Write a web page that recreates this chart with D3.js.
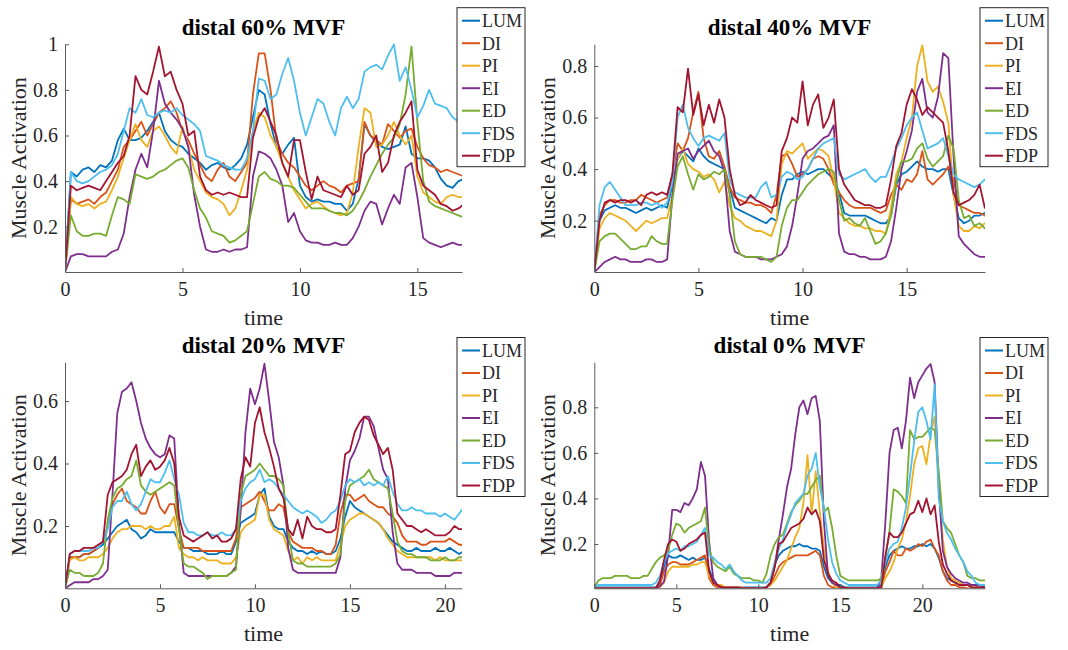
<!DOCTYPE html>
<html>
<head>
<meta charset="utf-8">
<script src="https://cdn.jsdelivr.net/npm/d3@7"></script>
<style>
  body { margin: 0; background: #fff; }
</style>
</head>
<body>
<svg id="chart" width="1068" height="650"></svg>
<script>
// sample spacing (s) shared by every series
const STEP = 0.25;
const muscles = ["LUM", "DI", "PI", "EI", "ED", "FDS", "FDP"];
const titles = ["distal 60% MVF", "distal 40% MVF", "distal 20% MVF", "distal 0% MVF"];
const tEnd = [16.9, 18.76, 20.9, 23.82];
const yDomains = [[0.0013, 1], [0.001, 0.884], [0.0006, 0.724], [0.0055, 0.9975]];
const xTicks = [[0, 5, 10, 15], [0, 5, 10, 15], [0, 5, 10, 15, 20], [0, 5, 10, 15, 20]];
const yTicks = [[0.2, 0.4, 0.6, 0.8, 1], [0.2, 0.4, 0.6, 0.8], [0.2, 0.4, 0.6], [0.2, 0.4, 0.6, 0.8]];

// activation x100, one value every STEP seconds
// distal 60% MVF
const lum60 = [0,44,42,45, 46,44,47,46, 49,58,63,58, 58,59,62,66, 70,62,58,56, 55,52,50,48, 45,47,48,46, 45,47,50,56, 68,80,78,65, 55,52,56,59, 38,33,31,32, 31,31,30,30, 27,30,41,65, 60,57,55,54, 55,56,64,52, 50,50,49,46, 41,38,37,40, 41];
const di60 = [0,32,30,31, 32,30,33,35, 40,45,55,58, 62,66,60,65, 70,72,75,70, 62,58,52,47, 42,40,45,48, 42,40,44,48, 78,96,96,80, 58,52,48,46, 42,38,36,38, 40,38,37,35, 38,39,40,66, 60,58,56,65, 62,59,62,63, 55,50,47,46, 44,45,44,43, 42];
const pi60 = [0,33,30,29, 30,28,30,31, 36,42,50,58, 65,58,55,62, 64,60,55,52, 64,55,45,40, 35,33,32,30, 25,28,36,45, 62,70,68,60, 55,48,42,36, 32,28,30,31, 29,27,26,25, 26,35,55,72, 70,55,56,60, 66,60,56,60, 42,35,33,31, 30,33,34,33, 33];
const ei60 = [0,7,8,8, 7,7,7,7, 9,10,17,33, 45,52,46,62, 84,74,70,67, 63,55,34,20, 10,9,9,10, 9,10,10,11, 42,53,52,50, 45,38,22,26, 18,14,13,13, 12,12,13,12, 12,15,20,27, 31,30,21,28, 34,30,46,48, 33,15,13,12, 11,12,13,12, 12];
const ed60 = [0,25,18,16, 16,17,17,16, 25,33,32,30, 43,42,41,42, 44,45,47,49, 50,46,36,28, 24,18,17,16, 13,14,16,18, 30,42,44,41, 40,38,38,37, 34,31,28,28, 28,27,26,26, 25,27,31,36, 42,47,52,56, 59,65,78,99, 66,40,31,29, 28,27,26,25, 24];
const fds60 = [0,44,40,39, 40,42,44,45, 47,52,62,72, 70,76,69,68, 70,71,70,72, 69,67,65,62, 51,50,49,47, 46,45,45,50, 62,85,84,76, 78,87,94,84, 70,60,68,76, 74,66,60,72, 77,72,76,88, 90,91,89,95, 100,84,90,80, 68,73,80,74, 73,72,68,66, 70];
const fdp60 = [0,38,36,37, 38,37,36,40, 44,48,51,60, 86,80,78,88, 99,86,88,80, 74,60,62,42, 36,34,35,34, 35,34,33,33, 59,68,72,66, 60,48,42,58, 58,44,32,42, 36,35,34,33, 38,34,36,52, 55,60,44,48, 60,66,70,75, 45,38,36,34, 30,29,27,28, 30];

// distal 40% MVF
const lum40 = [0,20,24,25, 26,25,25,24, 23,24,25,24, 25,26,25,34, 44,47,45,43, 48,45,43,42, 41,40,33,25, 24,23,22,21, 20,19,21,20, 30,36,36,38, 39,38,39,40, 40,38,36,31, 23,22,22,22, 22,21,20,19, 19,22,34,38, 39,41,43,41, 40,40,39,40, 40,30,21,19, 20,22,22,23, 23];
const di40 = [0,22,26,28, 28,27,27,28, 28,30,29,28, 27,28,29,38, 50,47,52,62, 70,52,45,44, 47,41,33,29, 28,27,27,26, 26,25,23,30, 45,46,42,37, 38,40,44,45, 44,40,34,31, 28,26,25,25, 25,25,24,23, 24,30,34,32, 36,35,38,47, 36,34,36,38, 41,36,26,25, 24,23,23,22, 21];
const pi40 = [0,17,21,23, 22,21,20,18, 16,18,20,19, 20,21,21,30, 44,48,42,40, 39,37,38,36, 31,35,26,21, 20,18,17,16, 16,15,14,20, 42,47,46,48, 50,44,46,48, 47,45,36,23, 21,19,18,18, 17,17,16,16, 15,25,38,43, 52,60,80,88, 74,70,72,66, 58,30,18,16, 16,18,17,19, 20];
const ei40 = [0,2,4,5, 6,5,5,4, 4,4,5,5, 4,4,5,30, 46,47,48,44, 47,49,51,47, 45,39,16,8, 7,6,6,6, 5,5,5,6, 7,10,18,30, 44,47,48,50, 52,53,57,15, 8,7,7,6, 6,5,5,5, 6,12,25,40, 47,55,70,75, 62,60,68,85, 83,45,14,11, 9,7,6,6, 7];
const ed40 = [0,12,14,15, 15,13,11,9, 9,10,10,14, 12,11,11,28, 41,45,38,32, 38,36,37,39, 38,40,30,12, 7,6,6,6, 6,5,4,6, 18,25,28,28, 31,34,36,38, 39,40,39,28, 20,21,19,18, 21,16,11,12, 15,22,35,43, 43,44,48,50, 44,41,43,45, 53,48,28,21, 22,18,19,17, 17];
const fds40 = [0,26,33,35, 32,29,26,26, 26,27,27,26, 27,25,27,35, 60,65,56,52, 49,52,53,52, 51,54,36,31, 30,29,29,29, 33,35,29,30, 37,39,38,36, 37,40,44,48, 50,51,52,38, 36,37,38,39, 40,37,35,37, 37,42,48,52, 57,60,62,55, 48,49,50,52, 45,38,36,35, 34,33,34,36, 36];
const fdp40 = [0,20,27,28, 27,28,28,27, 28,26,30,31, 30,31,30,38, 64,62,79,61, 69,57,65,58, 67,60,40,30, 26,27,30,28, 27,26,25,26, 47,52,60,58, 74,57,65,69, 56,60,67,40, 34,31,28,27, 26,26,25,25, 26,36,49,54, 65,71,67,61, 64,62,60,58, 47,31,26,27, 28,30,34,25, 26];

// distal 20% MVF
const lum20 = [0,10,10,10, 11,11,12,13, 14,16,18,20, 21,22,19,18, 16,17,19,18, 18,18,18,18, 15,13,13,12, 12,12,11,11, 11,12,11,11, 15,21,22,23, 24,30,32,23, 20,19,19,15, 13,12,12,11, 12,11,12,11, 11,12,16,23, 28,26,25,24, 23,22,21,19, 17,15,14,13, 12,12,13,12, 12,12,13,12, 12,13,12,11, 12];
const di20 = [0,10,10,10, 11,11,12,13, 15,20,27,30, 32,28,27,26, 24,24,28,31, 26,24,27,27, 19,13,13,13, 13,12,12,12, 12,12,12,12, 16,26,27,28, 29,31,28,25, 25,27,26,18, 15,14,13,13, 13,12,12,11, 11,14,24,30, 30,28,29,30, 28,27,26,26, 24,23,21,17, 15,15,15,14, 14,15,15,15, 15,16,15,14, 14];
const pi20 = [0,9,10,9, 9,10,10,10, 11,13,16,18, 19,19,20,20, 20,19,20,19, 19,20,20,23, 13,11,10,10, 9,10,9,9, 9,8,8,8, 10,18,20,21, 22,30,30,22, 19,18,17,12, 9,10,8,10, 9,10,9,9, 9,9,14,20, 22,23,24,24, 23,22,21,19, 16,14,12,11, 10,10,10,10, 10,10,9,10, 9,9,9,9, 9];
const ei20 = [0,1,2,2, 2,2,3,3, 4,6,30,56, 63,64,66,60, 53,48,45,43, 42,43,49,48, 21,5,4,4, 4,4,4,4, 4,4,4,5, 7,25,50,64, 59,64,72,60, 47,42,33,13, 6,5,5,5, 5,5,5,5, 5,5,10,32, 41,44,48,55, 55,52,45,38, 35,18,8,6, 6,6,5,5, 5,5,4,4, 4,4,5,5, 5];
const ed20 = [0,6,5,5, 4,4,4,5, 8,22,29,32, 33,35,36,41, 33,31,30,31, 32,33,34,33, 19,8,7,7, 6,5,3,4, 4,4,4,5, 6,30,36,37, 38,40,38,36, 36,35,33,18, 9,8,8,7, 7,7,7,7, 7,8,11,28, 33,34,35,36, 38,35,34,33, 32,24,15,12, 11,11,10,10, 10,9,9,9, 10,9,9,10, 10];
const fds20 = [0,11,12,12, 12,12,13,13, 15,19,26,28, 28,31,27,25, 27,31,35,34, 34,37,41,35, 30,21,18,18, 17,17,18,17, 17,18,17,17, 19,28,32,34, 35,38,34,35, 34,32,30,28, 26,25,24,25, 24,23,21,22, 24,25,28,33, 35,34,35,33, 34,33,34,33, 36,31,27,25, 25,26,25,25, 24,24,24,23, 24,23,22,24, 26];
const fdp20 = [0,11,12,12, 13,13,13,14, 15,30,34,35, 36,38,43,46, 36,39,41,38, 39,41,45,40, 23,17,16,15, 16,17,18,16, 17,15,15,16, 19,35,42,39, 53,58,50,45, 39,32,29,19, 17,22,16,23, 20,19,19,18, 18,19,30,43, 44,50,53,55, 54,49,46,43, 45,38,24,22, 20,20,19,18, 19,18,17,17, 17,18,20,19, 19];

// distal 0% MVF
const lum0 = [1,1,1,1, 1,1,1,1, 1,1,1,1, 1,1,1,1, 3,10,15,14, 14,15,14,13, 14,13,13,14, 9,4,2,1, 1,1,1,1, 1,1,1,1, 1,1,1,3, 11,15,17,18, 19,19,20,19, 19,18,18,17, 10,5,3,2, 2,1,1,1, 1,1,1,1, 1,1,2,10, 15,17,18,19, 18,18,19,19, 20,19,20,18, 14,8,5,4, 3,3,2,2, 2,2,1,1, 1];
const di0 = [.5,.5,.5,.5, .5,.5,.5,.5, .5,.5,.5,.5, .5,.5,.5,.5, 2,8,11,12, 12,11,11,11, 12,13,14,15, 5,2,1,1, .5,.5,.5,.5, .5,.5,.5,.5, .5,.5,1,2, 6,10,12,13, 14,15,15,15, 15,16,17,15, 6,2,1,1, .5,.5,.5,.5, .5,.5,.5,.5, .5,.5,1,8, 12,17,15,15, 18,17,18,20, 19,21,22,18, 15,8,4,2, 2,1,1,.5, .5,.5,.5,.5, .5];
const pi0 = [.5,.5,.5,.5, .5,.5,.5,.5, .5,.5,.5,.5, .5,.5,.5,.5, 1,3,8,10, 10,10,10,10, 11,11,12,12, 6,3,2,2, 1,1,1,1, 1,.5,.5,.5, .5,.5,1,2, 4,7,10,13, 18,23,27,38, 59,33,52,34, 18,8,3,1, .5,.5,.5,.5, .5,.5,.5,.5, .5,.5,1,5, 8,12,18,22, 30,41,55,62, 63,55,68,76, 44,22,10,5, 4,3,2,2, 1,1,1,1, 1];
const ei0 = [.5,.5,.5,.5, .5,.5,.5,.5, .5,.5,.5,.5, .5,.5,.5,.5, 1.5,3.5,15,35, 35,34,38,37, 40,44,56,50, 21,5,2,1, .5,.5,.5,.5, .5,.5,.5,.5, .5,.5,1,3, 10,22,33,45, 53,68,80,83, 77,84,85,74, 30,6,3,2, 1,.5,.5,.5, .5,.5,.5,.5, .5,.5,5,30, 60,70,71,62, 74,93,84,91, 94,97,99,91, 45,17,10,7, 5,4,3,3, 2,2,2,1, 1];
const ed0 = [1,4,5,5, 5,6,6,6, 6,5,5,5, 6,6,9,12, 14,15,17,24, 29,28,25,27, 28,29,30,36, 18,12,10,9, 8,10,7,6, 5,5,5,4, 4,3,7,15, 20,23,24,29, 34,37,39,42, 42,45,48,50, 34,36,27,15, 6,5,4,4, 4,4,4,4, 4,4,5,14, 26,44,43,41, 38,70,66,67, 67,69,71,70, 52,30,27,25, 20,15,12,6, 5,5,4,4, 4];
const fds0 = [1,2,2,2, 2,2,2,2, 2,2,2,2, 2,2,2,3, 6,12,16,17, 18,17,19,19, 20,21,24,27, 15,14,12,11, 9,11,8,6, 4,3,3,3, 3,3,3,5, 12,18,22,28, 33,38,40,42, 50,53,60,45, 36,22,12,7, 4,3,2,2, 2,2,2,2, 2,2,4,12, 18,20,21,27, 36,50,65,78, 80,74,66,90, 40,30,25,22, 18,15,12,8, 6,3,2,2, 2];
const fdp0 = [.5,.5,.5,.5, .5,.5,.5,.5, .5,.5,.5,.5, .5,.5,.5,.5, 4,13,20,22, 21,17,18,20, 21,22,24,25, 8,3,2,1, 1,1,1,1, .5,.5,.5,.5, .5,.5,1,3, 10,20,21,24, 27,28,29,31, 36,33,35,30, 13,7,4,3, 1,1,.5,.5, .5,.5,.5,.5, .5,.5,1,15, 25,23,23,25, 29,33,34,39, 34,40,33,37, 21,11,7,4, 3,2,2,2, 1,1,1,1, 1];

const panels = [
  { title: titles[0], tEnd: tEnd[0], yDomain: yDomains[0], xTicks: xTicks[0], yTicks: yTicks[0], series: [lum60, di60, pi60, ei60, ed60, fds60, fdp60] },
  { title: titles[1], tEnd: tEnd[1], yDomain: yDomains[1], xTicks: xTicks[1], yTicks: yTicks[1], series: [lum40, di40, pi40, ei40, ed40, fds40, fdp40] },
  { title: titles[2], tEnd: tEnd[2], yDomain: yDomains[2], xTicks: xTicks[2], yTicks: yTicks[2], series: [lum20, di20, pi20, ei20, ed20, fds20, fdp20] },
  { title: titles[3], tEnd: tEnd[3], yDomain: yDomains[3], xTicks: xTicks[3], yTicks: yTicks[3], series: [lum0, di0, pi0, ei0, ed0, fds0, fdp0] }
];

// MATLAB default line colours
const colors = ["#0072BD", "#D95319", "#EDB120", "#7E2F8E", "#77AC30", "#4DBEEE", "#A2142F"];
const cols = [{ left: 65, right: 462 }, { left: 594.3, right: 985 }];
const rows = [{ top: 44.3, bottom: 272, legendRow: 20.7 }, { top: 362.3, bottom: 588.3, legendRow: 350.5 }];
const axisColor = "#5a5a5a";
const textColor = "#262626";
const serif = "'Liberation Serif', serif";

const svg = d3.select("#chart").attr("font-family", serif);

panels.forEach((p, i) => {
  const c = cols[i % 2];
  const r = rows[Math.floor(i / 2)];
  const x = d3.scaleLinear().domain([0, p.tEnd]).range([c.left, c.right]);
  const y = d3.scaleLinear().domain(p.yDomain).range([r.bottom, r.top]);
  const g = svg.append("g");

  g.append("clipPath").attr("id", "clip" + i)
    .append("rect")
    .attr("x", c.left).attr("y", r.top - 1)
    .attr("width", c.right - c.left).attr("height", r.bottom - r.top + 1);

  const line = d3.line()
    .x((d, k) => x(k * STEP))
    .y(d => y(d / 100));

  p.series.forEach((s, k) => {
    g.append("path")
      .datum(s)
      .attr("clip-path", "url(#clip" + i + ")")
      .attr("fill", "none")
      .attr("stroke", colors[k])
      .attr("stroke-width", 1.8)
      .attr("stroke-linejoin", "round")
      .attr("d", line);
  });

  const xAxis = g.append("g")
    .attr("transform", "translate(0," + r.bottom + ")")
    .call(d3.axisBottom(x).tickValues(p.xTicks).tickSize(-4).tickSizeOuter(0).tickPadding(10).tickFormat(d3.format("d")));
  const yAxis = g.append("g")
    .attr("transform", "translate(" + c.left + ",0)")
    .call(d3.axisLeft(y).tickValues(p.yTicks).tickSize(-4).tickSizeOuter(0).tickPadding(7).tickFormat(d3.format("~g")));

  [xAxis, yAxis].forEach(a => {
    a.attr("font-family", serif).attr("font-size", 20);
    a.select(".domain").attr("stroke", axisColor);
    a.selectAll(".tick line").attr("stroke", axisColor);
    a.selectAll(".tick text").attr("fill", textColor);
  });

  g.append("text")
    .attr("x", (c.left + c.right) / 2).attr("y", r.top - 9.5)
    .attr("text-anchor", "middle")
    .attr("font-size", 23).attr("font-weight", "bold").attr("fill", "#000")
    .text(p.title);

  g.append("text")
    .attr("x", (c.left + c.right) / 2).attr("y", r.bottom + 53)
    .attr("text-anchor", "middle")
    .attr("font-size", 22).attr("fill", textColor)
    .text("time");

  g.append("text")
    .attr("transform", "translate(" + (c.left - 39) + "," + (r.top + r.bottom) / 2 + ") rotate(-90)")
    .attr("text-anchor", "middle")
    .attr("font-size", 22).attr("fill", textColor)
    .text("Muscle Activation");

  // legend
  const lx = c.right - 5;
  const ly = r.legendRow - 13;
  const rowH = 22.5;
  const leg = g.append("g");
  leg.append("rect")
    .attr("x", lx).attr("y", ly)
    .attr("width", 68).attr("height", rowH * 6 + 24)
    .attr("fill", "#fff").attr("stroke", "#262626").attr("stroke-width", 1);
  muscles.forEach((m, k) => {
    const yy = r.legendRow + k * rowH;
    leg.append("line")
      .attr("x1", lx + 5).attr("x2", lx + 23)
      .attr("y1", yy).attr("y2", yy)
      .attr("stroke", colors[k]).attr("stroke-width", 2);
    leg.append("text")
      .attr("x", lx + 25).attr("y", yy)
      .attr("dy", "0.35em")
      .attr("font-size", 18).attr("fill", textColor)
      .text(m);
  });
});
</script>
</body>
</html>
